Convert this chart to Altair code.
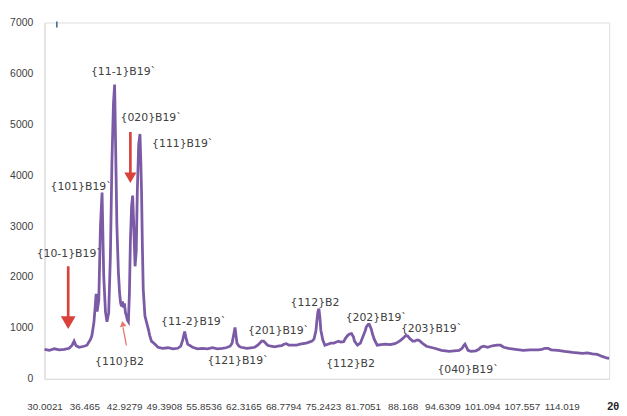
import altair as alt
import pandas as pd

# ---- XRD pattern (2theta in degrees, intensity in counts) ----
two_theta = [
    30.00, 30.80, 31.61, 32.41, 33.21, 34.01, 34.49, 34.81, 35.13, 35.61,
    36.42, 36.90, 37.49, 37.70, 38.02, 38.22, 38.39, 38.55, 38.82, 39.09,
    39.35, 39.62, 39.90, 40.15, 40.43, 40.70, 40.96, 41.20, 41.39, 41.55,
    41.76, 42.00, 42.19, 42.35, 42.51, 42.67, 42.83, 42.99, 43.15, 43.31,
    43.47, 43.63, 43.80, 43.95, 44.15, 44.32, 44.50, 44.71, 44.90, 45.08,
    45.30, 45.51, 45.64, 45.77, 45.90, 46.04, 46.31, 46.60, 46.84, 47.10,
    47.37, 47.96, 48.44, 49.20, 50.05, 50.90, 51.65, 52.13, 52.45, 52.77,
    53.00, 53.26, 54.06, 54.86, 55.66, 56.50, 57.27, 58.07, 58.87, 59.50,
    60.15, 60.47, 60.79, 60.95, 61.11, 61.27, 61.60, 61.92, 62.88, 63.50,
    64.16, 64.64, 64.96, 65.28, 65.60, 65.93, 66.25, 66.80, 67.37, 67.90,
    68.49, 68.90, 69.29, 69.70, 70.10, 70.90, 71.50, 72.02, 72.50, 72.98,
    73.46, 73.78, 74.10, 74.26, 74.42, 74.58, 74.74, 74.90, 75.22, 75.55,
    76.03, 76.51, 77.00, 77.31, 77.79, 78.11, 78.60, 78.92, 79.24, 79.56,
    79.88, 80.20, 80.36, 80.84, 81.32, 81.80, 82.12, 82.28, 82.60, 82.76,
    83.08, 83.24, 83.56, 84.05, 84.69, 85.33, 86.13, 86.93, 87.41, 87.90,
    88.38, 88.70, 89.02, 89.34, 89.82, 90.14, 90.46, 90.78, 91.10, 91.58,
    92.06, 93.35, 94.50, 95.75, 96.55, 97.35, 97.84, 98.16, 98.32, 98.48,
    98.80, 99.28, 100.08, 100.56, 100.88, 101.36, 102.00, 102.50, 102.97, 103.50,
    104.09, 104.60, 105.38, 106.50, 107.78, 108.90, 110.19, 110.80, 111.30, 111.79,
    112.30, 113.40, 114.50, 115.80, 116.60, 117.41, 118.20, 119.01, 119.80, 120.61,
    121.30, 121.73,
]
intensity = [
    580, 560, 590, 570, 580, 600, 660, 740, 650, 620,
    640, 660, 780, 850, 1100, 1400, 1670, 1320, 1550, 3000,
    3660, 2020, 1320, 1120, 1300, 2400, 4300, 5400, 5780, 4600,
    3000, 2100, 1700, 1500, 1420, 1520, 1400, 1480, 1300, 1240,
    1150, 1120, 1700, 2700, 3400, 3600, 3000, 2210, 2500, 3700,
    4600, 4810, 4300, 3640, 2600, 1760, 1240, 1100, 990, 850,
    740, 680, 620, 600, 610, 590, 600, 640, 760, 930,
    800, 680, 620, 590, 600, 590, 610, 590, 600, 610,
    640, 700, 900, 1010, 850, 700, 640, 620, 600, 610,
    620, 660, 700, 740, 740, 700, 660, 640, 630, 640,
    650, 680, 690, 660, 660, 660, 680, 690, 700, 720,
    740, 780, 950, 1150, 1320, 1380, 1200, 950, 760, 660,
    680, 700, 700, 720, 740, 720, 730, 800, 850, 880,
    890, 820, 740, 660, 700, 850, 950, 1020, 1070, 1070,
    980, 900, 780, 660, 670, 680, 670, 690, 720, 760,
    810, 850, 840, 790, 740, 740, 760, 760, 730, 680,
    640, 600, 560, 540, 550, 560, 600, 660, 680, 640,
    560, 540, 550, 580, 620, 640, 620, 640, 650, 660,
    660, 620, 600, 580, 560, 570, 570, 580, 600, 600,
    570, 560, 540, 520, 510, 500, 510, 490, 480, 440,
    410, 400,
]

# ---- x axis tick labels ----
x_ticks = [30.0021, 36.465, 42.9279, 49.3908, 55.8536, 62.3165, 68.7794,
           75.2423, 81.7051, 88.168, 94.6309, 101.094, 107.557, 114.019]
y_ticks = [0, 1000, 2000, 3000, 4000, 5000, 6000, 7000]

# ---- peak annotations ----
ann_text = ["{11-1}B19`", "{020}B19`", "{111}B19`", "{101}B19`", "{10-1}B19`",
            "{110}B2", "{11-2}B19`", "{121}B19`", "{201}B19`", "{112}B2",
            "{202}B19`", "{203}B19`", "{112}B2", "{040}B19`"]
ann_x = [42.83, 47.32, 52.45, 35.94, 34.01, 42.19, 54.22, 61.43, 68.01, 73.94,
         83.89, 92.87, 79.72, 98.80]
ann_y = [6031, 5119, 4615, 3762, 2443, 330, 1125, 349, 931, 1493,
         1202, 970, 291, 175]

# ---- arrows (shaft start / end, head position) ----
arrow_x1 = [33.85, 43.95]
arrow_y1 = [2211, 4848]
arrow_y2 = [1200, 4000]
head_x = [33.85, 43.95]
head_y = [1105, 3950]
head_size = [225, 150]

thin_x1 = [43.31]
thin_y1 = [659]
thin_x2 = [42.75]
thin_y2 = [1010]
thin_head_x = [42.71]
thin_head_y = [1080]

X_DOMAIN = [30.0021, 121.73]
Y_DOMAIN = [0, 7000]

xs = alt.Scale(domain=X_DOMAIN, nice=False, zero=False)
ys = alt.Scale(domain=Y_DOMAIN, nice=False, zero=True)

line_df = pd.DataFrame({"t": two_theta, "i": intensity})
ann_df = pd.DataFrame({"label": ann_text, "t": ann_x, "i": ann_y})
arr_df = pd.DataFrame({"t": arrow_x1, "i": arrow_y1, "i2": arrow_y2})
head_df = pd.DataFrame({"t": head_x, "i": head_y, "s": head_size})
thin_df = pd.DataFrame({"t": thin_x1, "i": thin_y1, "t2": thin_x2, "i2": thin_y2})
thin_head_df = pd.DataFrame({"t": thin_head_x, "i": thin_head_y})
mark_df = pd.DataFrame({"t": [32.0], "i": [6900], "i2": [7020]})
title_df = pd.DataFrame({"t": [121.41], "i": [-560], "label": ["2θ"]})

line = alt.Chart(line_df).mark_line(color="#7b5aa6", strokeWidth=2.8).encode(
    x=alt.X("t:Q", scale=xs, title=None,
            axis=alt.Axis(values=x_ticks, format=".6~r", labelFont="Liberation Sans",
                          labelFontSize=10, labelColor="#404040", labelPadding=23,
                          ticks=False, grid=False, domainColor="#d9d9d9",
                          labelOverlap=False, labelFlush=False)),
    y=alt.Y("i:Q", scale=ys, title=None,
            axis=alt.Axis(values=y_ticks, format="d", labelFont="Liberation Sans",
                          labelFontSize=10.5, labelColor="#404040", labelPadding=12,
                          ticks=False, grid=False, domainColor="#d9d9d9")),
)

labels = alt.Chart(ann_df).mark_text(
    font="DejaVu Sans", fontSize=11, color="#404040", clip=False
).encode(
    x=alt.X("t:Q", scale=xs), y=alt.Y("i:Q", scale=ys), text="label:N"
)

shafts = alt.Chart(arr_df).mark_rule(color="#d9413a", strokeWidth=2.7).encode(
    x=alt.X("t:Q", scale=xs), y=alt.Y("i:Q", scale=ys), y2="i2:Q"
)

heads = alt.Chart(head_df).mark_point(
    shape="triangle-down", filled=True, color="#d9413a", opacity=1
).encode(
    x=alt.X("t:Q", scale=xs), y=alt.Y("i:Q", scale=ys),
    size=alt.Size("s:Q", scale=None, legend=None)
)

thin = alt.Chart(thin_df).mark_rule(color="#e8766c", strokeWidth=1.3).encode(
    x=alt.X("t:Q", scale=xs), y=alt.Y("i:Q", scale=ys), x2="t2:Q", y2="i2:Q"
)

thin_head = alt.Chart(thin_head_df).mark_point(
    shape="triangle-up", filled=True, color="#e8766c", opacity=1, size=45, angle=350
).encode(
    x=alt.X("t:Q", scale=xs), y=alt.Y("i:Q", scale=ys)
)

stray = alt.Chart(mark_df).mark_rule(color="#4a6a8a", strokeWidth=1.6).encode(
    x=alt.X("t:Q", scale=xs), y=alt.Y("i:Q", scale=ys), y2="i2:Q"
)

axis_title = alt.Chart(title_df).mark_text(
    font="Liberation Sans", fontSize=11, fontWeight="bold", color="#262626",
    align="left", clip=False
).encode(
    x=alt.X("t:Q", scale=xs), y=alt.Y("i:Q", scale=ys), text="label:N"
)

chart = alt.layer(line, labels, shafts, heads, thin, thin_head, stray, axis_title).properties(
    width=572, height=361,
    autosize=alt.AutoSizeParams(type="none"),
    padding={"left": 37, "top": 12, "right": 10, "bottom": 35},
).configure_view(stroke=None).configure(background="white")

chart.save("out.html", embed_options={"renderer": "svg", "actions": False})
